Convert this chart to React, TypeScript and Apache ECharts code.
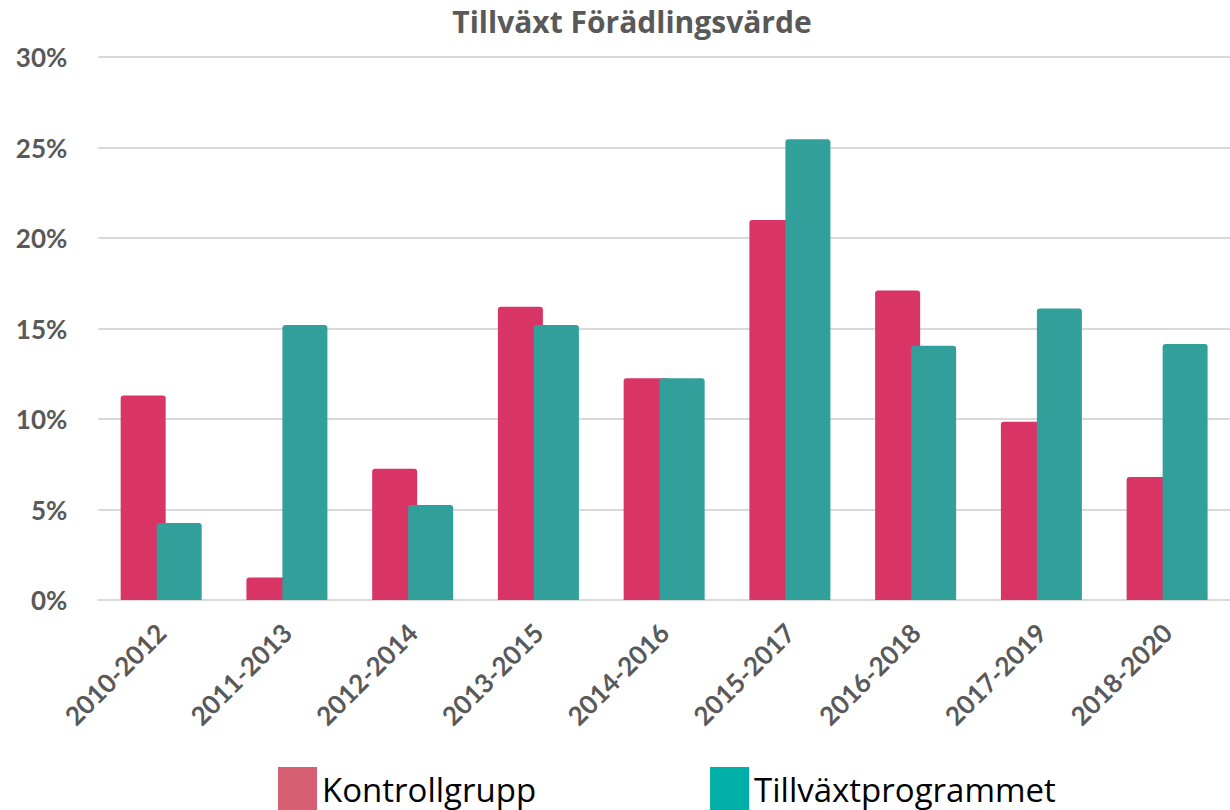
import React, { useEffect, useRef } from "react";
import * as echarts from "echarts";

const categories = [
  "2010-2012",
  "2011-2013",
  "2012-2014",
  "2013-2015",
  "2014-2016",
  "2015-2017",
  "2016-2018",
  "2017-2019",
  "2018-2020",
];
const kontrollgrupp = [11.3, 1.25, 7.25, 16.2, 12.25, 21.0, 17.1, 9.85, 6.8];
const tillvaxtprogrammet = [4.25, 15.2, 5.25, 15.2, 12.25, 25.45, 14.05, 16.1, 14.15];
const yTicks = { min: 0, max: 30, interval: 5 };

const FONT = "Lato, 'Open Sans', sans-serif";
const TITLE_FONT = "'Open Sans', Lato, sans-serif";

export default function App() {
  const ref = useRef<HTMLDivElement>(null);
  useEffect(() => {
    if (!ref.current) return;
    const chart = echarts.init(ref.current, undefined, { renderer: "svg" });
    chart.setOption({
      animation: false,
      backgroundColor: "#ffffff",
      title: {
        text: "Tillväxt Förädlingsvärde",
        left: 627,
        textAlign: "center",
        top: 1,
        textStyle: { fontFamily: TITLE_FONT, fontWeight: "bold", fontSize: 30, color: "#595959" },
      },
      grid: { left: 98.3, top: 57, width: 1136, bottom: 210, containLabel: false },
      legend: {
        left: 273,
        top: 762,
        itemWidth: 39,
        itemHeight: 44,
        itemGap: 174,
        icon: "rect",
        textStyle: {
          fontFamily: TITLE_FONT,
          fontSize: 33,
          color: "#000000",
        },
        data: [
          { name: "Kontrollgrupp", itemStyle: { color: "#D66072" } },
          { name: "Tillväxtprogrammet", itemStyle: { color: "#00B0A8" } },
        ],
      },
      xAxis: {
        type: "category",
        data: categories,
        axisTick: { show: false },
        axisLine: { show: true, lineStyle: { color: "#D9D9D9", width: 2 } },
        axisLabel: {
          rotate: 45,
          margin: 28,
          interval: 0,
          fontFamily: FONT,
          fontWeight: "bold",
          fontSize: 26,
          color: "#595959",
        },
      },
      yAxis: {
        type: "value",
        min: yTicks.min,
        max: yTicks.max,
        interval: yTicks.interval,
        axisLine: { show: false },
        axisTick: { show: false },
        splitLine: { lineStyle: { color: "#D9D9D9", width: 2 } },
        axisLabel: {
          formatter: "{value}%",
          margin: 31,
          fontFamily: FONT,
          fontWeight: "bold",
          fontSize: 26,
          color: "#595959",
        },
      },
      series: [
        {
          name: "Kontrollgrupp",
          type: "bar",
          data: kontrollgrupp,
          barWidth: 45,
          barGap: "-20%",
          itemStyle: { color: "#D83566", borderRadius: [3, 3, 0, 0] },
        },
        {
          name: "Tillväxtprogrammet",
          type: "bar",
          data: tillvaxtprogrammet,
          barWidth: 45,
          barGap: "-20%",
          itemStyle: { color: "#32A09A", borderRadius: [3, 3, 0, 0] },
        },
      ],
    });
    return () => chart.dispose();
  }, []);
  return (
    <div
      ref={ref}
      style={{ position: "absolute", left: 0, top: 0, width: 1230, height: 810 }}
    />
  );
}
